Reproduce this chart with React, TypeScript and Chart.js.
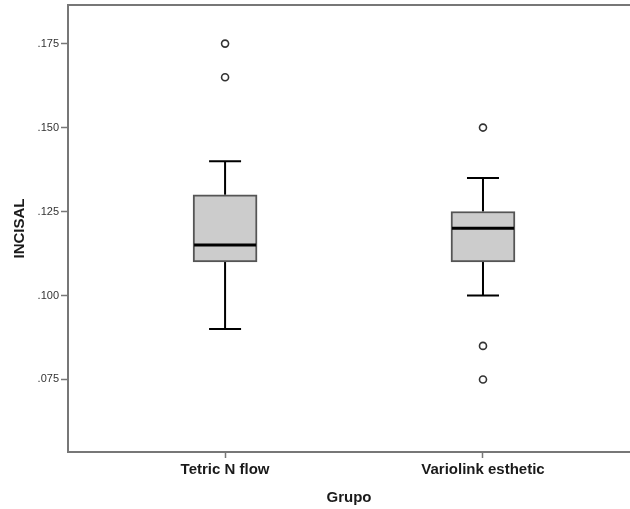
import React, { useEffect, useRef } from "react";
import { Chart, registerables } from "chart.js";

Chart.register(...registerables);

const categories = ["Tetric N flow", "Variolink esthetic"];
const positions = [1, 2];
const whiskerLow = [0.09, 0.1];
const q1 = [0.11, 0.11];
const medians = [0.115, 0.12];
const q3 = [0.13, 0.125];
const whiskerHigh = [0.14, 0.135];
const outlierGroup = [1, 1, 2, 2, 2];
const outlierValues = [0.175, 0.165, 0.15, 0.085, 0.075];
const yTicks = [0.075, 0.1, 0.125, 0.15, 0.175];

const FONT = "'Liberation Sans', Arial, sans-serif";

const boxPlugin = {
  id: "boxExtras",
  beforeDatasetsDraw(chart: any) {
    const { ctx, scales } = chart;
    const xs = scales.x;
    const ys = scales.y;
    ctx.save();
    ctx.strokeStyle = "#000";
    ctx.lineWidth = 2;
    positions.forEach((p, i) => {
      const cx = xs.getPixelForValue(p);
      const capHalf = 16;
      const yLo = ys.getPixelForValue(whiskerLow[i]);
      const yHi = ys.getPixelForValue(whiskerHigh[i]);
      const yQ1 = ys.getPixelForValue(q1[i]);
      const yQ3 = ys.getPixelForValue(q3[i]);
      ctx.beginPath();
      ctx.moveTo(cx, yQ3);
      ctx.lineTo(cx, yHi);
      ctx.moveTo(cx - capHalf, yHi);
      ctx.lineTo(cx + capHalf, yHi);
      ctx.moveTo(cx, yQ1);
      ctx.lineTo(cx, yLo);
      ctx.moveTo(cx - capHalf, yLo);
      ctx.lineTo(cx + capHalf, yLo);
      ctx.stroke();
    });
    ctx.restore();
  },
  afterDatasetsDraw(chart: any) {
    const { ctx, scales, chartArea } = chart;
    const xs = scales.x;
    const ys = scales.y;
    ctx.save();
    ctx.strokeStyle = "#000";
    ctx.lineWidth = 3;
    const meta = chart.getDatasetMeta(0);
    positions.forEach((p, i) => {
      const el = meta.data[i];
      const half = el.width / 2 - 1;
      const cx = xs.getPixelForValue(p);
      const ym = ys.getPixelForValue(medians[i]);
      ctx.beginPath();
      ctx.moveTo(cx - half, ym);
      ctx.lineTo(cx + half, ym);
      ctx.stroke();
    });
    // top frame line
    ctx.strokeStyle = "#777";
    ctx.lineWidth = 2;
    ctx.beginPath();
    ctx.moveTo(chartArea.left - 1, chartArea.top);
    ctx.lineTo(chartArea.right, chartArea.top);
    ctx.stroke();
    ctx.restore();
  },
};

export default function App() {
  const canvasRef = useRef<HTMLCanvasElement | null>(null);

  useEffect(() => {
    const canvas = canvasRef.current;
    if (!canvas) return;
    const chart = new Chart(canvas, {
      type: "bar",
      data: {
        datasets: [
          {
            type: "bar",
            data: positions.map((p, i) => ({ x: p, y: [q1[i], q3[i]] })) as any,
            backgroundColor: "#cccccc",
            borderColor: "#555555",
            borderWidth: 2,
            borderSkipped: false,
            barThickness: 64,
          } as any,
          {
            type: "scatter",
            data: outlierValues.map((v, i) => ({ x: outlierGroup[i], y: v })),
            pointRadius: 3.5,
            pointBorderWidth: 1.6,
            borderColor: "#333333",
            backgroundColor: "#ffffff",
            pointStyle: "circle",
          } as any,
        ],
      },
      options: {
        responsive: false,
        animation: false,
        layout: { autoPadding: false, padding: { top: 5, left: 0, right: 0, bottom: 0 } },
        plugins: {
          legend: { display: false },
          tooltip: { enabled: false },
        },
        scales: {
          x: {
            type: "linear",
            min: 0.391,
            max: 2.57,
            offset: false,
            afterBuildTicks: (scale: any) => {
              scale.ticks = positions.map((v) => ({ value: v }));
            },
            afterFit: (scale: any) => {
              scale.height = 57;
              scale.paddingLeft = 0;
              scale.paddingRight = 0;
            },
            ticks: {
              callback: (v: any) => categories[positions.indexOf(Number(v))] ?? "",
              font: { family: FONT, size: 15, weight: "bold" },
              color: "#1a1a1a",
              padding: 3,
              maxRotation: 0,
              autoSkip: false,
            },
            grid: {
              offset: false,
              drawOnChartArea: false,
              drawTicks: true,
              tickLength: 6,
              tickColor: "#777",
              tickWidth: 1.5,
            },
            border: { display: true, color: "#777", width: 2 },
            title: {
              display: true,
              text: "Grupo",
              font: { family: FONT, size: 15, weight: "bold" },
              color: "#1a1a1a",
              padding: { top: 0, bottom: 2 },
            },
          },
          y: {
            type: "linear",
            min: 0.0534,
            max: 0.1865,
            afterBuildTicks: (scale: any) => {
              scale.ticks = yTicks.map((v) => ({ value: v }));
            },
            afterFit: (scale: any) => {
              scale.width = 68;
              scale.paddingTop = 0;
              scale.paddingBottom = 0;
            },
            ticks: {
              callback: (v: any) => Number(v).toFixed(3).replace(/^0/, ""),
              font: { family: FONT, size: 11 },
              color: "#333",
              padding: 2,
            },
            grid: {
              drawOnChartArea: false,
              drawTicks: true,
              tickLength: 7,
              tickColor: "#777",
              tickWidth: 1.5,
            },
            border: { display: true, color: "#777", width: 2 },
            title: {
              display: true,
              text: "INCISAL",
              font: { family: FONT, size: 15, weight: "bold" },
              color: "#1a1a1a",
              padding: { top: 11, bottom: 0 },
            },
          },
        },
      },
      plugins: [boxPlugin],
    });
    return () => chart.destroy();
  }, []);

  return (
    <div style={{ position: "fixed", left: 0, top: 0, width: 630, height: 509, background: "#fff" }}>
      <canvas ref={canvasRef} width={630} height={509} style={{ display: "block" }} />
    </div>
  );
}
